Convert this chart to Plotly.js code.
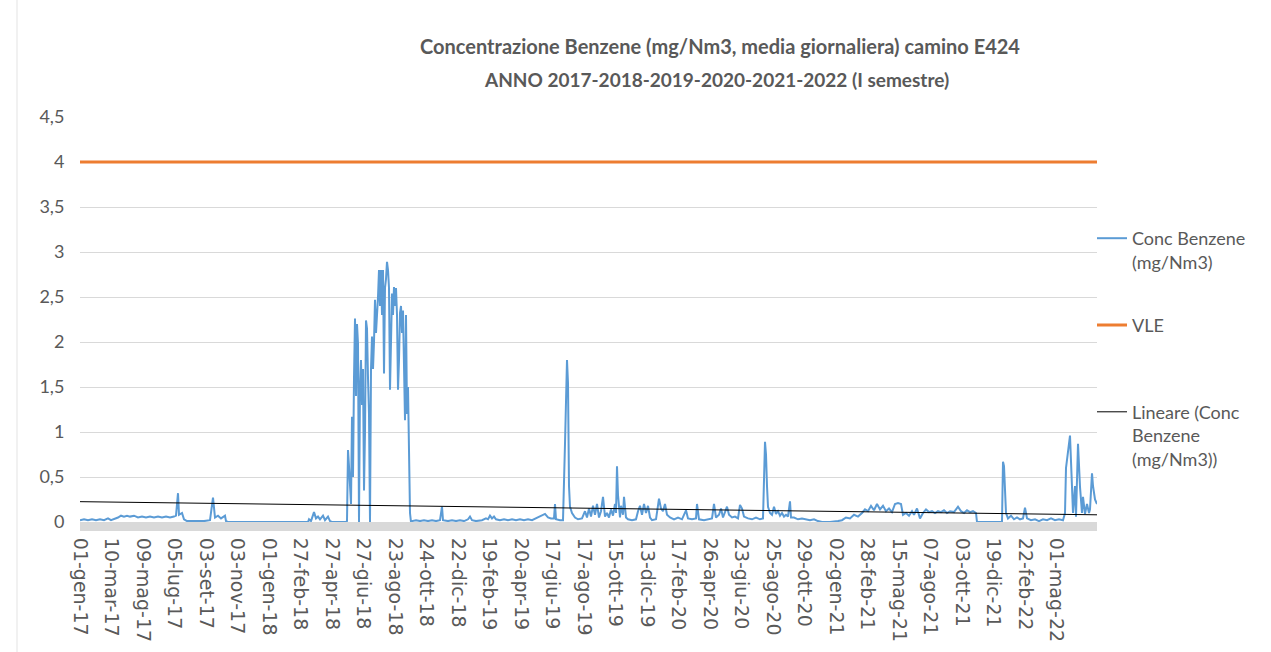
<!DOCTYPE html>
<html>
<head>
<meta charset="utf-8">
<script src="https://cdn.plot.ly/plotly-3.0.1.min.js"></script>
<style>html,body{margin:0;padding:0;background:#fff;}#chart{width:1271px;height:652px;}</style>
</head>
<body>
<div id="chart"></div>
<script>
// Category index of each daily record (Excel category axis, one label every 63 records)
const giorno = [
  0,8,16,24,32,40,48,56,62,68,76,82,88,94,100,108,116,124,132,140,148,156,164,172,180,188,192,196,198,204,208,214,224,236,248,260,266,270,276,282,286,290,292,296,320,364,420,456,458,462,468,472,476,480,486,490,496,500,504,532,534,
  536,538,540,542,544,546,548,550,552,554,556,558,560,562,564,566,568,570,572,574,576,578,580,582,584,586,588,590,592,594,596,598,600,602,604,606,608,610,612,614,616,618,620,622,624,626,628,630,632,634,636,638,640,642,644,646,648,650,652,654,656,658,660,662,
  664,672,680,688,696,704,712,720,724,726,736,744,752,760,768,776,780,784,792,804,812,816,820,824,828,832,840,848,856,864,872,880,888,896,904,930,936,942,948,950,952,960,966,970,972,974,976,978,980,984,990,996,
  1004,1010,1014,1018,1022,1026,1030,1034,1038,1042,1046,1050,1054,1058,1062,1066,1070,1072,1074,1076,1080,1082,1086,1088,1092,1096,1104,1112,1116,1120,1124,1128,1132,1136,1140,1144,1152,1158,1162,1166,1170,1174,1180,1188,1196,1204,1212,1216,1224,1232,1234,1238,1248,1256,1264,1268,1272,1278,1282,1286,1294,1298,1304,1310,1316,1320,1324,1328,1336,1344,1352,1360,1366,1370,1372,1374,1376,1380,1384,1388,1392,1396,
  1400,1404,1408,1412,1416,1420,1422,1428,1436,1444,1452,1460,1468,1476,1484,1500,1516,1524,1532,1540,1548,1556,1564,1570,1576,1582,1588,1594,1600,1606,1612,1618,1624,1630,1636,1642,1646,1652,1658,1664,1668,1674,1680,1686,1692,1698,1704,1710,1716,1722,1728,1734,1740,1748,1756,1762,1768,1774,1780,1786,1792,1794,
  1844,1846,1848,1852,1856,1862,1868,1874,1880,1886,1890,1894,1902,1910,1918,1926,1934,1942,1950,1958,1966,1970,1972,1976,1980,1984,1986,1990,1992,1996,2000,2004,2006,2010,2014,2018,2020,2024,2026,2030,2034
];
// Conc Benzene (mg/Nm3), daily mean
const concBenzene = [
  0.02,0.03,0.02,0.03,0.02,0.03,0.02,0.04,0.02,0.03,0.05,0.07,0.06,0.07,0.06,0.07,0.05,0.06,0.05,0.06,0.05,0.06,0.05,0.06,0.05,0.06,0.07,0.32,0.08,0.10,0.03,0.01,0.01,0.01,0.01,0.02,0.27,0.05,0.07,0.04,0.06,0.07,0.01,0.00,0.00,0.00,0.00,0.00,0.03,0.01,0.11,0.04,0.06,0.03,0.07,0.02,0.06,0.01,0.00,0.00,0.01,
  0.80,0.62,0.30,0.20,1.17,0.50,1.60,2.26,1.40,2.20,1.98,0.00,1.50,1.80,1.30,1.70,0.35,1.00,2.24,2.15,1.60,1.20,0.00,1.70,2.06,1.70,2.00,2.47,2.10,2.28,2.50,2.80,2.40,2.80,2.30,2.80,1.65,2.60,2.70,2.89,2.80,2.60,1.47,2.00,2.54,2.30,2.61,2.40,2.60,2.30,1.47,1.80,2.32,2.40,2.10,2.35,1.60,1.13,2.30,1.20,1.50,0.50,0.10,0.00,
  0.01,0.02,0.01,0.02,0.01,0.02,0.01,0.02,0.17,0.02,0.01,0.02,0.01,0.02,0.01,0.03,0.06,0.02,0.01,0.02,0.04,0.03,0.07,0.04,0.06,0.03,0.02,0.03,0.02,0.03,0.02,0.03,0.02,0.03,0.02,0.09,0.05,0.04,0.04,0.20,0.03,0.02,0.02,0.87,1.50,1.80,1.54,0.40,0.17,0.10,0.05,0.03,
  0.04,0.12,0.05,0.15,0.06,0.18,0.08,0.20,0.05,0.12,0.28,0.06,0.10,0.05,0.14,0.07,0.20,0.10,0.62,0.30,0.05,0.18,0.08,0.28,0.05,0.03,0.02,0.03,0.12,0.18,0.08,0.20,0.10,0.18,0.05,0.02,0.03,0.26,0.15,0.12,0.20,0.08,0.05,0.03,0.05,0.03,0.13,0.04,0.03,0.04,0.20,0.03,0.02,0.03,0.04,0.20,0.05,0.08,0.15,0.05,0.17,0.08,0.05,0.06,0.04,0.19,0.15,0.06,0.04,0.03,0.05,0.03,0.04,0.89,0.75,0.40,0.17,0.10,0.08,0.17,0.09,0.12,
  0.07,0.10,0.06,0.08,0.06,0.23,0.05,0.05,0.03,0.04,0.03,0.02,0.03,0.01,0.00,0.00,0.01,0.02,0.05,0.04,0.08,0.06,0.10,0.14,0.12,0.18,0.13,0.20,0.14,0.18,0.12,0.15,0.11,0.20,0.21,0.20,0.08,0.10,0.07,0.12,0.08,0.15,0.04,0.10,0.14,0.11,0.12,0.10,0.12,0.11,0.13,0.10,0.12,0.11,0.17,0.12,0.10,0.13,0.11,0.12,0.10,0.00,
  0.00,0.67,0.62,0.10,0.04,0.07,0.03,0.05,0.03,0.04,0.16,0.04,0.02,0.03,0.01,0.03,0.02,0.04,0.02,0.03,0.02,0.10,0.60,0.76,0.96,0.39,0.10,0.40,0.06,0.87,0.39,0.10,0.28,0.09,0.20,0.10,0.14,0.54,0.40,0.25,0.20
];
// VLE (emission limit value) and linear trend end points
const vleX = [0, 2034];
const vleY = [4, 4];
const trendX = [0, 2034];
const trendY = [0.226, 0.08];
// X tick labels (every 63 records)
const tickLabels = ['01-gen-17','10-mar-17','09-mag-17','05-lug-17','03-set-17','03-nov-17','01-gen-18','27-feb-18','27-apr-18','27-giu-18','23-ago-18','24-ott-18','22-dic-18','19-feb-19','20-apr-19','17-giu-19','17-ago-19','15-ott-19','13-dic-19','17-feb-20','26-apr-20','23-giu-20','25-ago-20','29-ott-20','02-gen-21','28-feb-21','15-mag-21','07-ago-21','03-ott-21','19-dic-21','22-feb-22','01-mag-22'];
const tickIdx = tickLabels.map((_, k) => k * 63);

const gray = '#595959';
const calib = 'Lato, "Open Sans", sans-serif';

const traces = [
  {x: giorno, y: concBenzene, type: 'scatter', mode: 'lines', name: 'Conc Benzene<br>(mg/Nm3)',
   line: {color: '#5B9BD5', width: 2}, legendgroup: 'a', hoverinfo: 'y'},
  {x: vleX, y: vleY, type: 'scatter', mode: 'lines', name: 'VLE<br>&nbsp;',
   line: {color: '#ED7D31', width: 3}, legendgroup: 'b'},
  {x: trendX, y: trendY, type: 'scatter', mode: 'lines', name: 'Lineare (Conc<br>Benzene<br>(mg/Nm3))',
   line: {color: '#000000', width: 1}, legendgroup: 'c'}
];

const layout = {
  width: 1271, height: 652,
  margin: {l: 80, r: 174, t: 117, b: 130, autoexpand: false},
  paper_bgcolor: '#ffffff', plot_bgcolor: '#ffffff',
  separators: ',.',
  showlegend: true,
  title: {text: 'Concentrazione Benzene (mg/Nm3, media giornaliera) camino E424',
          x: 0.5665, xanchor: 'center', xref: 'container', y: 1 - 47/652, yanchor: 'middle', yref: 'container',
          font: {family: calib, size: 20, color: gray, weight: 'bold'}},
  annotations: [{text: 'ANNO 2017-2018-2019-2020-2021-2022 (I semestre)', xref: 'paper', yref: 'paper',
          x: (716 - 80) / 1017, y: 1 + (117 - 80) / 405, xanchor: 'center', yanchor: 'middle', showarrow: false,
          font: {family: calib, size: 19, color: gray, weight: 'bold'}}],
  xaxis: {type: 'linear', range: [0, 2034], tickvals: tickIdx, ticktext: tickLabels, tickangle: 90,
          showgrid: false, zeroline: false, showline: false, ticks: 'outside', ticklen: 11, tickcolor: 'rgba(0,0,0,0)',
          tickfont: {family: '"DejaVu Sans", sans-serif', size: 19, color: gray}, fixedrange: true},
  yaxis: {range: [0, 4.5], dtick: 0.5, tick0: 0, showgrid: true, gridcolor: '#d9d9d9', gridwidth: 1,
          zeroline: false, showline: false, ticks: 'outside', ticklen: 11, tickcolor: 'rgba(0,0,0,0)',
          tickfont: {family: calib, size: 18, color: gray}, fixedrange: true},
  legend: {xref: 'container', yref: 'container', x: 1092 / 1271, y: 1 - 220 / 652, xanchor: 'left', yanchor: 'top',
           valign: 'top', tracegroupgap: 37, itemwidth: 30, bgcolor: 'rgba(0,0,0,0)',
           font: {family: calib, size: 18, color: gray}},
  shapes: [
    {type: 'rect', xref: 'paper', yref: 'paper', x0: 0, x1: 1, ysizemode: 'pixel', yanchor: 0,
     y0: 0, y1: -9, fillcolor: '#d9d9d9', line: {width: 0}, layer: 'below'},
    {type: 'line', xref: 'paper', yref: 'paper', x0: -63/1017, x1: -63/1017, y0: -130/405, y1: 1 + 117/405,
     line: {color: '#e3e3e3', width: 1}}
  ]
};

Plotly.newPlot('chart', traces, layout, {displayModeBar: false, staticPlot: true});
</script>
</body>
</html>
